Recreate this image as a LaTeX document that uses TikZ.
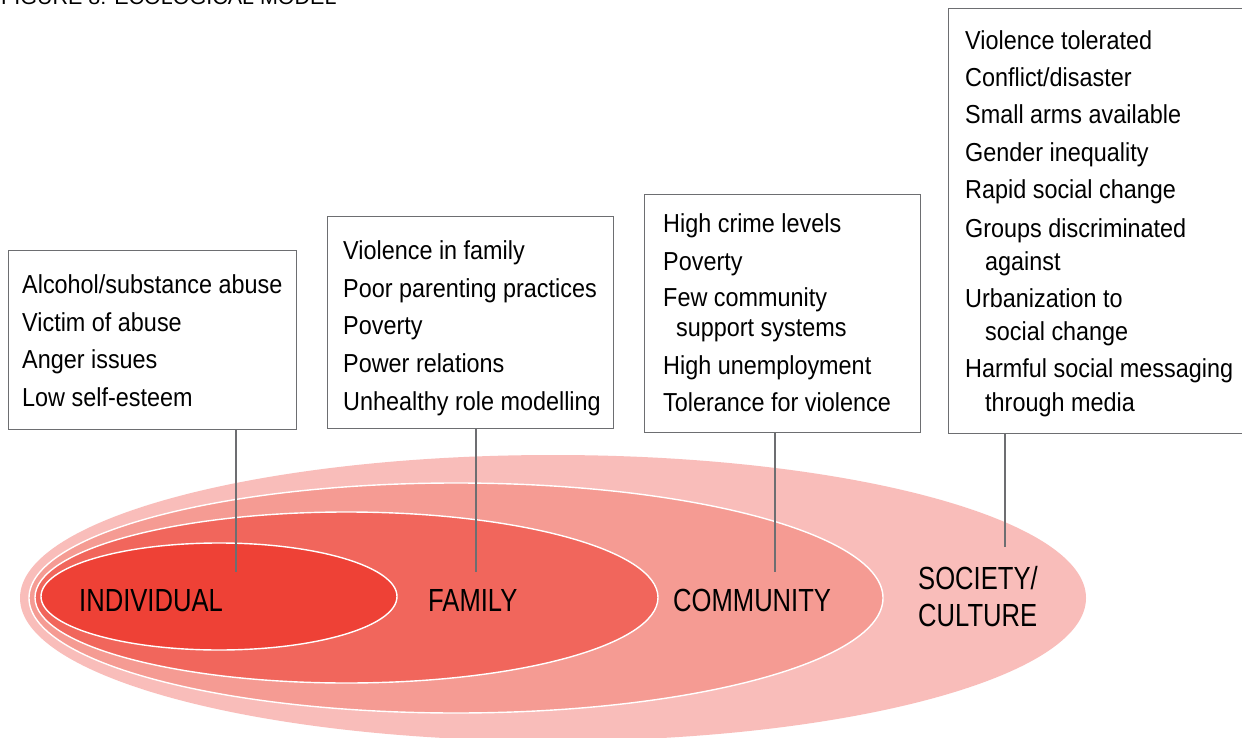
\documentclass[tikz,border=0pt]{standalone}
\usepackage{fontspec}
\setmainfont{Liberation Sans}
\newfontfamily\boxfont[FakeStretch=0.9]{Liberation Sans}
\newfontfamily\lblfont[FakeStretch=0.8]{Liberation Sans}
\definecolor{cInd}{HTML}{EE4136}
\definecolor{cFam}{HTML}{F1665C}
\definecolor{cCom}{HTML}{F59B93}
\definecolor{cSoc}{HTML}{F9BDBA}
\definecolor{cLine}{HTML}{6D6E71}
\tikzset{
  boxst/.style={draw=cLine, line width=1.4pt, fill=white, inner sep=0pt, anchor=north west},
  txt/.style={anchor=base west, inner sep=0pt, font=\boxfont\fontsize{26}{30}\selectfont},
  lbl/.style={anchor=base west, inner sep=0pt, font=\lblfont\fontsize{32}{36}\selectfont},
  conn/.style={draw=cLine, line width=1.4pt},
  ring/.style={draw=white, line width=1.4pt}
}
\begin{document}
\begin{tikzpicture}[x=1pt,y=-1pt]
\useasboundingbox (0,0) rectangle (1242,738);
\fill[white] (0,0) rectangle (1242,738);
% title (cut off at top, as in the reference)
\node[anchor=base west, inner sep=0pt, font=\rmfamily\fontsize{21.5}{24}\selectfont] (title) at (1,4.5) {FIGURE 8: ECOLOGICAL MODEL};
% ellipses
\fill[cSoc] (553,598) ellipse [x radius=533pt, y radius=143pt];
\path[ring, fill=cCom] (456,598) ellipse [x radius=427pt, y radius=115pt];
\path[ring, fill=cFam] (346.5,597.5) ellipse [x radius=311.5pt, y radius=85.5pt];
\path[ring, fill=cInd] (219,596.5) ellipse [x radius=178pt, y radius=53.5pt];
% labels
\node[lbl] (lInd) at (79,611) {INDIVIDUAL};
\node[lbl] (lFam) at (428,611) {FAMILY};
\node[lbl] (lCom) at (673,611) {COMMUNITY};
\node[lbl] (lSoc) at (918,589) {SOCIETY/};
\node[lbl] (lCul) at (918,626) {CULTURE};
% boxes
\node[boxst, minimum width=288pt, minimum height=179pt] (b1) at (8,250) {};
\node[boxst, minimum width=286pt, minimum height=212pt] (b2) at (327,216) {};
\node[boxst, minimum width=276pt, minimum height=238pt] (b3) at (644,194) {};
\node[boxst, minimum width=320pt, minimum height=425pt] (b4) at (948,8) {};
% connector end points
\coordinate (e1) at (236,572);
\coordinate (e2) at (476,572);
\coordinate (e3) at (775,572);
\coordinate (e4) at (1005,547);
\draw[conn] (b1.south -| e1) -- (e1);
\draw[conn] (b2.south -| e2) -- (e2);
\draw[conn] (b3.south -| e3) -- (e3);
\draw[conn] (b4.south -| e4) -- (e4);
% box 1 text
\node[txt] (t11) at (22,293) {Alcohol/substance abuse};
\node[txt] (t12) at (22,331) {Victim of abuse};
\node[txt] (t13) at (22,368) {Anger issues};
\node[txt] (t14) at (22,406) {Low self-esteem};
% box 2 text
\node[txt] (t21) at (343,259) {Violence in family};
\node[txt] (t22) at (343,297) {Poor parenting practices};
\node[txt] (t23) at (343,334) {Poverty};
\node[txt] (t24) at (343,372) {Power relations};
\node[txt] (t25) at (343,410) {Unhealthy role modelling};
% box 3 text
\node[txt] (t31) at (663,233) {High crime levels};
\node[txt] (t32) at (663,270) {Poverty};
\node[txt] (t33) at (663,306) {Few community};
\node[txt] (t34) at (676,336) {support systems};
\node[txt] (t35) at (663,374) {High unemployment};
\node[txt] (t36) at (663,411) {Tolerance for violence};
% box 4 text
\node[txt] (t41) at (965,50) {Violence tolerated};
\node[txt] (t42) at (965,87) {Conflict/disaster};
\node[txt] (t43) at (965,124) {Small arms available};
\node[txt] (t44) at (965,162) {Gender inequality};
\node[txt] (t45) at (965,199) {Rapid social change};
\node[txt] (t46) at (965,237) {Groups discriminated};
\node[txt] (t47) at (985,270) {against};
\node[txt] (t48) at (965,307) {Urbanization to};
\node[txt] (t49) at (985,340) {social change};
\node[txt] (t410) at (965,377) {Harmful social messaging};
\node[txt] (t411) at (985,411) {through media};
\end{tikzpicture}
\end{document}
